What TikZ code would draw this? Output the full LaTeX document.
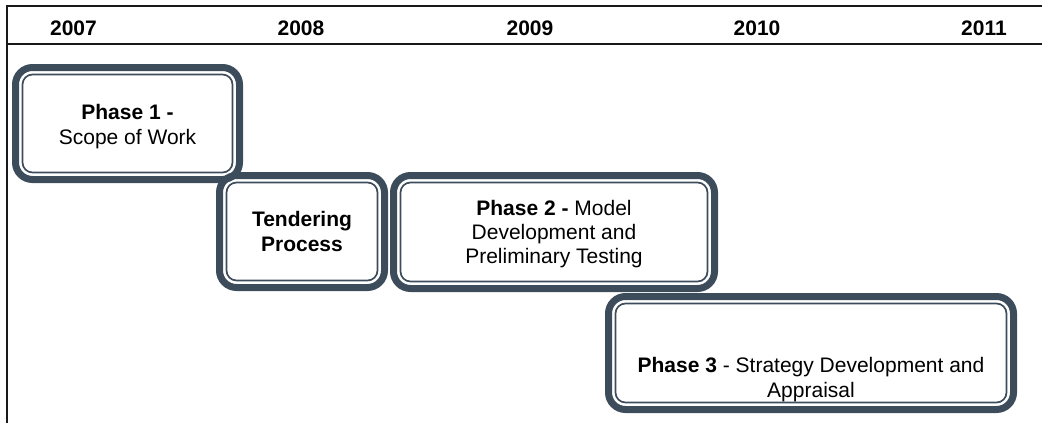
\documentclass[tikz,border=0pt]{standalone}
\usepackage{fontspec}
\setmainfont{Liberation Sans}
\usetikzlibrary{calc}
\definecolor{boxc}{RGB}{60,76,91}
\definecolor{rulec}{RGB}{25,25,25}
\tikzset{
  year/.style={font=\fontsize{21}{24}\selectfont\bfseries, inner sep=0pt, anchor=base},
  phasebox/.style={draw=boxc, line width=7pt, rounded corners=17pt, inner sep=0pt, outer sep=0pt},
  phaseinner/.style={draw=boxc, line width=1.7pt, rounded corners=10pt},
  phasetext/.style={font=\fontsize{21}{24.5}\selectfont, align=center, inner sep=0pt, anchor=base},
  rule/.style={draw=rulec, line width=2pt},
}
% rounded frame with a thin inner outline, inset from the thick band
\newcommand{\innerline}[1]{%
  \draw[phaseinner] ($(#1.north west)+(7,7)$) rectangle ($(#1.south east)+(-7,-7)$);}
\begin{document}
\begin{tikzpicture}[x=1pt,y=-1pt]
\useasboundingbox (0,0) rectangle (1042,423);

% header frame
\coordinate (tl) at (7,5.8);
\coordinate (tr) at (1042,5.8);
\coordinate (bl) at (7,423);
\coordinate (sl) at (7,44);
\coordinate (sr) at (1042,44);
\draw[rule] (tr) -- (tl) -- (bl);
\draw[rule, line width=1.6pt] (sl) -- (sr);

% years
\node[year] (y2007) at (73.5,35) {2007};
\node[year] (y2008) at (301,35) {2008};
\node[year] (y2009) at (530,35) {2009};
\node[year] (y2010) at (757,35) {2010};
\node[year] (y2011) at (984,35) {2011};

% phase boxes
\node[phasebox, minimum width=224pt, minimum height=112pt] (p1) at (127.5,123.5) {};
\innerline{p1}
\node[phasebox, minimum width=165pt, minimum height=112pt] (tend) at (302,231.5) {};
\innerline{tend}
\node[phasebox, minimum width=321pt, minimum height=113pt] (p2) at (554,232) {};
\innerline{p2}
\node[phasebox, minimum width=405pt, minimum height=113pt] (p3) at (811,353) {};
\innerline{p3}

% phase labels (anchored on the baseline of the last line)
\node[phasetext] (p1t) at (127.5,144) {\textbf{Phase 1 -}\\Scope of Work};
\node[phasetext] (tendt) at (302,251) {\textbf{Tendering}\\\textbf{Process}};
\node[phasetext, font=\fontsize{21}{23.8}\selectfont] (p2t) at (554,263) {\textbf{Phase 2 -} Model\\Development and\\Preliminary Testing};
\node[phasetext] (p3t) at (811,397) {\textbf{Phase 3} - Strategy Development and\\Appraisal};
\end{tikzpicture}
\end{document}
